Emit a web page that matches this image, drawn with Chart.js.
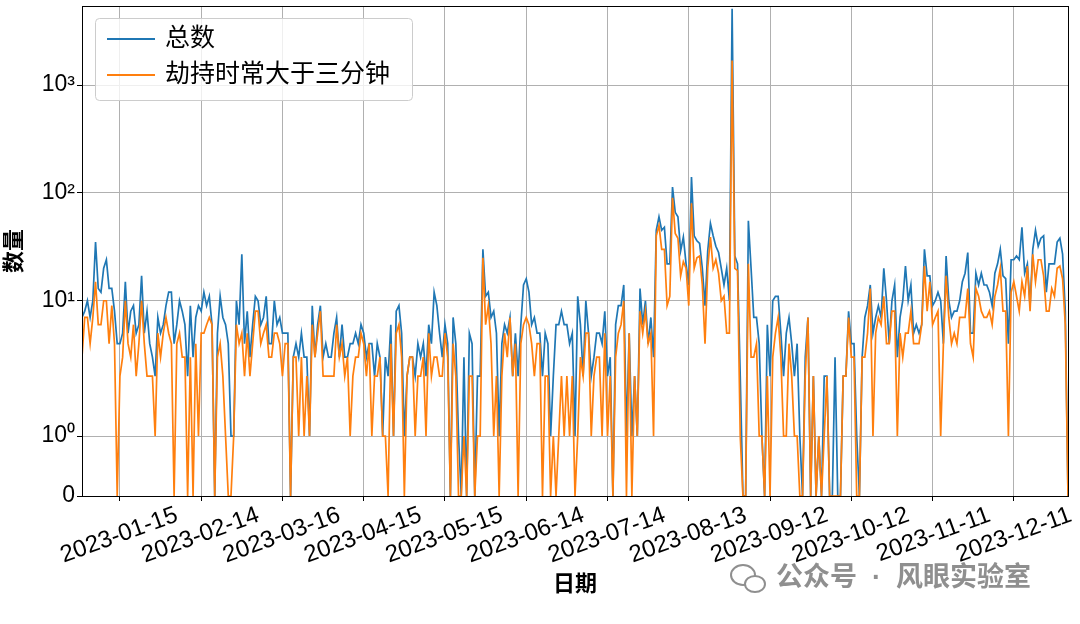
<!DOCTYPE html>
<html>
<head>
<meta charset="utf-8">
<script src="https://cdn.jsdelivr.net/npm/chart.js@4.4.1/dist/chart.umd.min.js"></script>
<style>
  html, body { margin: 0; background: #fff; }
  #wrap { width: 1080px; height: 624px; }
</style>
</head>
<body>
<div id="wrap"><canvas id="chart" width="1080" height="624"></canvas></div>
<script>
// -- dữ liệu (một điểm mỗi ngày, năm 2023) --
const startDate = '2023-01-01';
const seriesNames = ['总数', '劫持时常大于三分钟'];

const totalCounts = [
  7,8,10,7,10,35,13,12,20,24, 13,13,8,4,4,5,15,5,8,9, 5,6,17,5,8,4,3,2,7,5,
  6,9,12,12,4,6,10,8,6,2, 9,3,7,9,8,12,9,11,6,0, 5,11,7,6,4,1,1,10,6,27,
  4,8,3,6,11,10,6,7,11,4, 4,10,6,7,5,5,5,0,3,4, 3,5,3,3,1,9,3,6,9,3,
  4,3,3,5,7,3,6,3,3,4, 4,5,4,6,5,3,4,4,2,4, 3,1,3,2,6,1,8,9,5,1,
  2,3,3,2,4,3,4,2,6,4, 12,9,5,3,6,4,0,7,4,1, 0,3,0,5,4,0,2,2,30,11,
  12,7,8,5,1,4,6,5,7,2, 5,2,6,14,16,12,6,7,5,5, 2,5,4,1,2,6,6,8,6,6,
  4,5,1,11,6,2,10,5,2,3, 5,5,4,8,2,3,0,6,9,9, 14,1,5,1,2,1,13,6,10,4,
  7,3,45,60,45,48,22,22,113,66, 60,29,39,22,14,140,40,36,34,20, 9,29,52,40,32,28,20,14,20,10,
  5100,26,22,2,0,0,55,20,7,7, 4,1,0,6,2,10,11,11,5,2, 5,7,4,2,4,1,0,3,7,0,
  2,0,1,0,2,2,0,0,3,0, 0,2,2,8,4,4,1,0,3,7, 9,14,5,7,9,7,20,10,4,10,
  14,3,7,10,21,10,14,5,6,5, 6,30,17,17,9,10,12,10,4,26, 10,7,8,8,10,15,18,28,5,5,
  18,14,18,14,14,12,9,18,22,30, 17,16,4,24,24,26,24,48,18,22, 9,30,45,32,38,40,12,22,22,22,
  35,38,27,8,0
];

const hijackCounts = [
  3,7,7,4,7,15,6,6,10,10, 4,9,4,0,2,3,10,4,3,6, 2,4,10,4,2,2,2,1,5,3,
  5,7,5,4,0,4,5,3,3,0, 3,0,4,1,5,5,6,7,6,0, 3,4,2,1,0,0,1,6,4,5,
  2,5,2,4,8,8,4,5,6,3, 3,5,5,4,2,4,4,0,3,3, 1,3,1,2,1,6,3,5,8,2,
  2,2,2,2,6,3,4,2,3,1, 2,3,3,5,4,2,4,1,2,2, 3,1,1,0,4,1,5,6,3,0,
  2,3,3,1,2,2,3,1,5,2, 3,3,2,2,5,3,0,4,2,0, 0,1,0,2,2,0,1,1,25,6,
  9,4,1,2,0,2,5,3,7,2, 4,0,4,6,7,6,4,2,4,4, 0,2,2,0,1,0,1,2,1,2,
  1,2,0,1,3,2,5,5,1,2, 3,3,1,5,1,2,0,3,5,6, 10,0,5,0,2,1,8,5,8,4,
  5,1,40,50,30,30,9,11,90,42, 38,17,23,20,9,80,20,25,26,14, 4,20,39,20,24,18,10,11,5,5,
  1690,20,19,1,0,0,22,3,3,4, 1,1,0,2,0,3,5,7,3,1, 1,4,2,1,1,0,0,2,7,0,
  2,0,1,0,1,2,0,0,0,0, 0,2,2,7,3,3,0,0,3,3, 5,13,1,5,7,6,11,4,4,8,
  8,1,5,3,5,5,8,4,4,4, 6,21,8,15,6,7,8,1,4,17, 7,4,5,4,7,7,7,13,4,3,
  13,11,8,7,7,8,6,11,14,20, 8,8,1,12,15,11,8,15,11,21, 8,27,15,24,24,17,8,8,13,11,
  20,21,16,6,0
];

const xTickLabels = ['2023-01-15', '2023-02-14', '2023-03-16', '2023-04-15', '2023-05-15', '2023-06-14',
                     '2023-07-14', '2023-08-13', '2023-09-12', '2023-10-12', '2023-11-11', '2023-12-11'];
const yTickValues = [0, 1, 10, 100, 1000];
const yTickLabels = ['0', '10⁰', '10¹', '10²', '10³'];

const FONT = "'Liberation Sans', 'Noto Sans CJK SC', sans-serif";
const BLUE = '#1f77b4';
const ORANGE = '#ff7f0e';

function dayIndex(s) {
    return (Date.parse(s) - Date.parse(startDate)) / 86400000;
}

// -- trục symlog kiểu matplotlib (linthresh = 2, linscale = 1) --
const LINTHRESH = 2;
const LINADJ = 1 / (1 - 1 / 10);
function symlog(v) {
    const a = Math.abs(v), s = Math.sign(v);
    return a <= LINTHRESH ? s * a * LINADJ / LINTHRESH : s * (LINADJ + Math.log10(a / LINTHRESH));
}
function symexp(t) {
    const a = Math.abs(t), s = Math.sign(t);
    return a <= LINADJ ? s * a * LINTHRESH / LINADJ : s * LINTHRESH * Math.pow(10, a - LINADJ);
}

class SymlogScale extends Chart.Scale {
    static id = 'symlog';
    static defaults = {};
    determineDataLimits() {
        const { min, max } = this.getMinMax(true);
        this.min = Number.isFinite(this.options.min) ? this.options.min : min;
        this.max = Number.isFinite(this.options.max) ? this.options.max : max;
    }
    buildTicks() {
        return yTickValues.map(v => ({ value: v }));
    }
    getLabelForValue(v) { return String(v); }
    configure() {
        super.configure();
        this._t0 = symlog(this.min);
        this._t1 = symlog(this.max);
    }
    getPixelForValue(v) {
        return this.getPixelForDecimal((symlog(v) - this._t0) / (this._t1 - this._t0));
    }
    getValueForPixel(p) {
        return symexp(this._t0 + this.getDecimalForPixel(p) * (this._t1 - this._t0));
    }
}
Chart.register(SymlogScale);

// khung trục (4 cạnh) + chú thích + watermark
const framePlugin = {
    id: 'frame',
    afterDatasetsDraw(chart) {
        const { ctx, chartArea: a } = chart;
        ctx.save();
        ctx.strokeStyle = '#000';
        ctx.lineWidth = 1;
        ctx.strokeRect(Math.round(a.left) + 0.5, Math.round(a.top) + 0.5,
                       Math.round(a.right - a.left), Math.round(a.bottom - a.top));

        // legend
        const bx = 95, by = 18, bw = 317, bh = 82, r = 4;
        ctx.globalAlpha = 0.8;
        ctx.fillStyle = '#fff';
        ctx.beginPath();
        ctx.roundRect(bx + 0.5, by + 0.5, bw, bh, r);
        ctx.fill();
        ctx.globalAlpha = 1;
        ctx.strokeStyle = '#cccccc';
        ctx.stroke();

        const colors = [BLUE, ORANGE];
        const rows = [39, 75];
        ctx.font = '25px ' + FONT;
        ctx.textBaseline = 'middle';
        ctx.textAlign = 'left';
        seriesNames.forEach((name, i) => {
            ctx.strokeStyle = colors[i];
            ctx.lineWidth = 1.8;
            ctx.beginPath();
            ctx.moveTo(107, rows[i]);
            ctx.lineTo(155, rows[i]);
            ctx.stroke();
            ctx.fillStyle = '#000';
            ctx.fillText(name, 165, rows[i]);
        });

        // watermark
        ctx.strokeStyle = '#8f8f8f';
        ctx.lineWidth = 2;
        ctx.beginPath();
        ctx.ellipse(743, 575, 12, 10, 0, 0, Math.PI * 2);
        ctx.stroke();
        ctx.beginPath();
        ctx.ellipse(755, 584, 10, 8, 0, 0, Math.PI * 2);
        ctx.fillStyle = '#fff';
        ctx.fill();
        ctx.stroke();
        ctx.fillStyle = '#8f8f8f';
        ctx.font = 'bold 27px ' + FONT;
        ctx.fillText('公众号  ·  风眼实验室', 776, 579);
        ctx.restore();
    }
};

const ctx = document.getElementById('chart');
new Chart(ctx.getContext('2d'), {
    type: 'line',
    data: {
        datasets: [{
            label: seriesNames[0],
            data: totalCounts.map((v, i) => ({ x: i, y: v })),
            borderColor: BLUE,
            borderWidth: 1.7,
            pointRadius: 0,
            fill: false,
            tension: 0,
            order: 2
        }, {
            label: seriesNames[1],
            data: hijackCounts.map((v, i) => ({ x: i, y: v })),
            borderColor: ORANGE,
            borderWidth: 1.7,
            pointRadius: 0,
            fill: false,
            tension: 0,
            order: 1
        }]
    },
    options: {
        responsive: false,
        animation: false,
        events: [],
        layout: { padding: { top: 6, right: 12, left: 0, bottom: 0 } },
        plugins: {
            legend: { display: false },
            tooltip: { enabled: false }
        },
        scales: {
            x: {
                type: 'linear',
                min: 0,
                max: totalCounts.length - 1,
                border: { display: false },
                grid: { color: '#b0b0b0', lineWidth: 1, tickColor: '#000', tickLength: 5 },
                afterBuildTicks: (scale) => {
                    scale.ticks = xTickLabels.map(s => ({ value: dayIndex(s) }));
                },
                afterFit: (scale) => {
                    scale.height = 128;
                    scale.paddingLeft = 0;
                    scale.paddingRight = 0;
                },
                ticks: {
                    autoSkip: false,
                    minRotation: 20,
                    maxRotation: 20,
                    padding: 0,
                    labelOffset: 57,
                    color: '#000',
                    font: { family: FONT, size: 24 },
                    callback: (v, i) => xTickLabels[i]
                },
                title: {
                    display: true,
                    text: '日期',
                    color: '#000',
                    font: { family: FONT, size: 22, weight: 'bold' },
                    padding: { top: 0, bottom: 26 }
                }
            },
            y: {
                type: 'symlog',
                min: 0,
                max: 5400,
                border: { display: false },
                grid: { color: '#b0b0b0', lineWidth: 1, tickColor: '#000', tickLength: 5 },
                afterFit: (scale) => {
                    scale.width = 82;
                    scale.paddingTop = 0;
                    scale.paddingBottom = 0;
                },
                ticks: {
                    padding: 2,
                    color: '#000',
                    font: { family: FONT, size: 23 },
                    callback: (v, i) => yTickLabels[i]
                },
                title: {
                    display: true,
                    text: '数量',
                    color: '#000',
                    font: { family: FONT, size: 22, weight: 'bold' },
                    padding: { top: 2, bottom: 0 }
                }
            }
        }
    },
    plugins: [framePlugin]
});
</script>
</body>
</html>
